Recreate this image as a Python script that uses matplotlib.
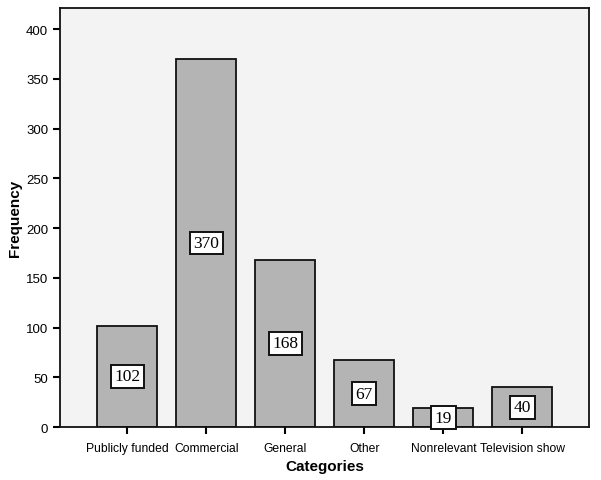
import matplotlib.pyplot as plt

categories = ['Publicly funded', 'Commercial', 'General', 'Other', 'Nonrelevant', 'Television show']
counts = [102, 370, 168, 67, 19, 40]
yticks = [0, 50, 100, 150, 200, 250, 300, 350, 400]

plt.rcParams['font.family'] = ['Liberation Sans', 'DejaVu Sans']

fig = plt.figure(figsize=(6.01, 4.81), dpi=100)
ax = fig.add_axes([0.0998, 0.110, 0.880, 0.871])
ax.set_facecolor('#f3f3f3')

x = list(range(len(categories)))
ax.bar(x, counts, width=0.76, color='#b4b4b4', edgecolor='#111111', linewidth=1.3, zorder=2)

# value labels in boxes at half height
for xi, c in zip(x, counts):
    ax.text(xi, c / 2, str(c), ha='center', va='center', fontsize=12.5,
            family='Liberation Serif', zorder=3,
            bbox=dict(boxstyle='square,pad=0.2', facecolor='white', edgecolor='#111111', linewidth=1.4))

ax.set_xlim(-0.85, 5.84)
ax.set_ylim(0, 421)
ax.set_xticks(x)
ax.set_xticklabels(categories, fontsize=8.7)
ax.set_yticks(yticks)
ax.tick_params(axis='y', labelsize=9.5, length=5, width=1.5)
ax.tick_params(axis='x', length=5, width=1.5, pad=6)
for s in ax.spines.values():
    s.set_linewidth(1.3)
    s.set_color('#111111')

ax.set_xlabel('Categories', fontsize=11, fontweight='bold')
ax.set_ylabel('Frequency', fontsize=11, fontweight='bold')
ax.xaxis.set_label_coords(0.5, -0.076)
ax.yaxis.set_label_coords(-0.071, 0.5)

fig.savefig('out.png', dpi=100)
